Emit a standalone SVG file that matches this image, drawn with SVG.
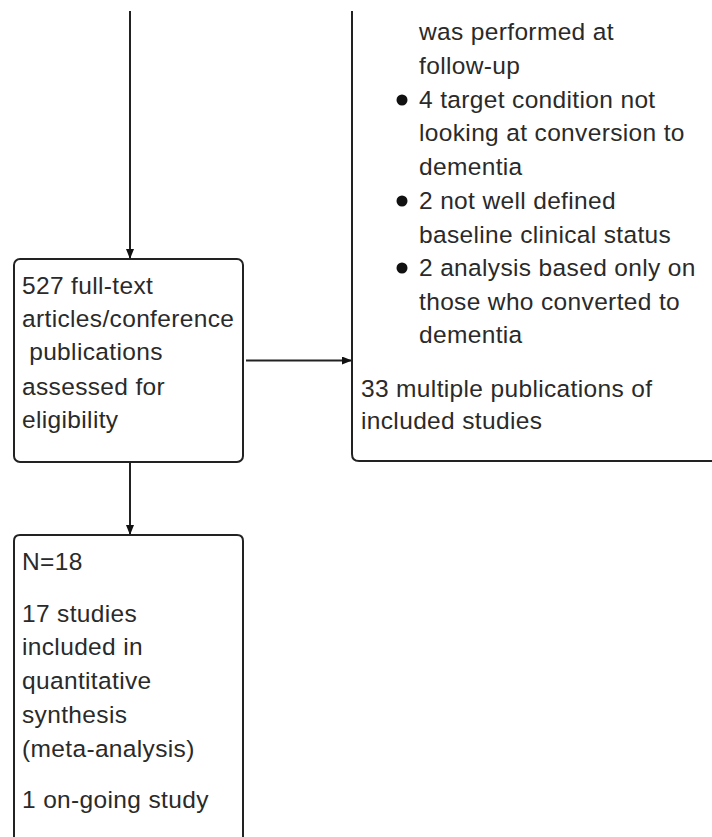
<svg xmlns="http://www.w3.org/2000/svg" width="712" height="837" viewBox="0 0 712 837">
<defs>
<style>
.box{fill:#fff;stroke:#222;stroke-width:2}
.ln{fill:none;stroke:#222;stroke-width:2}
text{font-family:"Liberation Sans",Arial,sans-serif;font-size:24.5px;fill:#2a2a2a;letter-spacing:0.35px;white-space:pre}
.dot{fill:#111}
</style>
<marker id="arr" viewBox="0 0 10 8" refX="10" refY="4" markerWidth="10" markerHeight="8" orient="auto" markerUnits="userSpaceOnUse">
<path d="M0,0 L10,4 L0,8 Z" fill="#111"/>
</marker>
</defs>
<g id="connectors">
<line class="ln" x1="130" y1="11" x2="130" y2="259" marker-end="url(#arr)"/>
<line class="ln" x1="246" y1="360.5" x2="352" y2="360.5" marker-end="url(#arr)"/>
<line class="ln" x1="130" y1="462" x2="130" y2="535" marker-end="url(#arr)"/>
</g>
<g id="excluded">
<path class="box" d="M352,11 L352,454 Q352,461 359,461 L720,461"/>
<text x="419" y="40">was performed at</text>
<text x="419" y="74">follow-up</text>
<circle class="dot" cx="402" cy="100" r="5.5"/>
<text x="419" y="108">4 target condition not</text>
<text x="419" y="141">looking at conversion to</text>
<text x="419" y="175">dementia</text>
<circle class="dot" cx="402" cy="201" r="5.5"/>
<text x="419" y="209">2 not well defined</text>
<text x="419" y="243">baseline clinical status</text>
<circle class="dot" cx="402" cy="268" r="5.5"/>
<text x="419" y="276">2 analysis based only on</text>
<text x="419" y="310">those who converted to</text>
<text x="419" y="343">dementia</text>
<text x="361" y="397">33 multiple publications of</text>
<text x="361" y="429">included studies</text>
</g>
<g id="fulltext">
<rect class="box" x="14" y="259" width="229" height="203" rx="6" ry="6"/>
<text x="22" y="294">527 full-text</text>
<text x="22" y="327">articles/conference</text>
<text x="22" y="360" xml:space="preserve"> publications</text>
<text x="22" y="395">assessed for</text>
<text x="22" y="428">eligibility</text>
</g>
<g id="included">
<path class="box" d="M14,845 L14,541 Q14,535 20,535 L237,535 Q243,535 243,541 L243,845"/>
<text x="22" y="570">N=18</text>
<text x="22" y="622">17 studies</text>
<text x="22" y="655">included in</text>
<text x="22" y="689">quantitative</text>
<text x="22" y="723">synthesis</text>
<text x="22" y="757">(meta-analysis)</text>
<text x="22" y="808">1 on-going study</text>
</g>
</svg>
